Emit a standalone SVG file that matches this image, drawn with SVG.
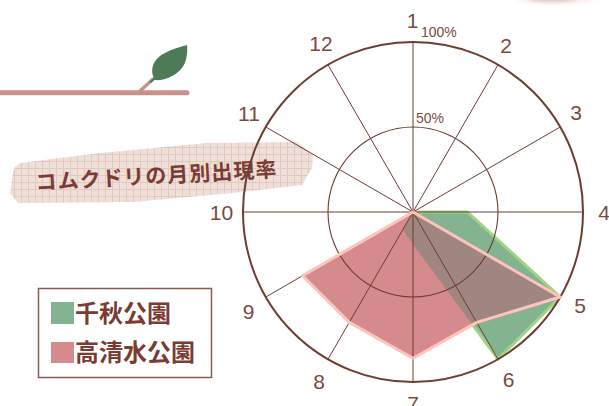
<svg xmlns="http://www.w3.org/2000/svg" width="609" height="406" viewBox="0 0 609 406">
  <style>
    .grid { stroke: #6e3c31; fill: none; }
    .num { font-family: "Liberation Sans", "DejaVu Sans", sans-serif; font-size: 21px; fill: #7a4a40; text-anchor: middle; }
    .pct { font-family: "Liberation Sans", "DejaVu Sans", sans-serif; font-size: 14px; fill: #7a4a40; }
    .jp { font-family: "Noto Sans CJK JP", "Noto Sans", sans-serif; font-weight: bold; fill: #7a3b32; }
  </style>
  <defs>
    <pattern id="paper" patternUnits="userSpaceOnUse" width="7" height="7">
      <rect width="7" height="7" fill="#eedfd8"/>
      <path d="M0,0.5 H7 M0.5,0 V7" stroke="#e2c8be" stroke-width="1"/>
    </pattern>
    <clipPath id="greenClip">
      <polygon points="413,212 467.4,212 560.2,297 498,359.2 413,244.3 402.8,229.7"/>
    </clipPath>
    <filter id="blur" x="-50%" y="-200%" width="200%" height="500%">
      <feGaussianBlur stdDeviation="2"/>
    </filter>
  </defs>

  <rect width="609" height="406" fill="#ffffff"/>

  <!-- faint cut-off shape at top right -->
  <g id="corner" filter="url(#blur)">
    <ellipse cx="555" cy="-4" rx="42" ry="8" fill="#f6e2dd" opacity="0.6"/>
    <ellipse cx="553" cy="-2" rx="24" ry="3" fill="#8a6a64" opacity="0.45"/>
  </g>

  <!-- branch and leaf -->
  <g id="leaf">
    <line x1="0" y1="92.8" x2="187" y2="92.8" stroke="#c8918a" stroke-width="5" stroke-linecap="round"/>
    <line x1="139" y1="92" x2="153" y2="79" stroke="#c8918a" stroke-width="3.5" stroke-linecap="round"/>
    <line x1="150" y1="82.5" x2="157" y2="76" stroke="#4e7a57" stroke-width="2"/>
    <path d="M155,80 C150,72 151,60 165,53 C172,49 180,47 187,45 C188,55 186,66 178,72 C172,77 163,81 155,80 Z" fill="#4e7a57"/>
  </g>

  <!-- title banner -->
  <g id="title">
    <polygon points="15,167 20,163 100,153 207,143 297,142 313,155 312,168 302,185 233,193 133,202 18,203 10,193 13,172" fill="url(#paper)"/>
    <text class="jp" x="36" y="190" font-size="21" letter-spacing="1" transform="rotate(-3.2 36 190)">コムクドリの月別出現率</text>
  </g>

  <!-- radar chart -->
  <g id="chart">
    <g id="series-senshu">
      <polygon points="413,212 467.4,212 560.2,297 498,359.2 413,244.3 402.8,229.7" fill="#84b391" stroke="#9fd483" stroke-width="3" stroke-linejoin="round"/>
    </g>
    <g id="series-takashimizu-fill">
      <polygon points="413,212 560.2,297 476.75,322.4 413,358.2 349.25,322.4 302.6,275.75" fill="#d58a8d"/>
      <polygon points="413,212 560.2,297 476.75,322.4 413,358.2 349.25,322.4 302.6,275.75" fill="#a08680" clip-path="url(#greenClip)"/>
    </g>
    <g id="grid">
      <circle class="grid" cx="413" cy="212" r="170" stroke-width="2"/>
      <circle class="grid" cx="413" cy="212" r="85" stroke-width="1.1"/>
      <g class="grid" stroke-width="1">
        <line x1="413" y1="42" x2="413" y2="382"/>
        <line x1="498" y1="64.8" x2="328" y2="359.2"/>
        <line x1="560.2" y1="127" x2="265.8" y2="297"/>
        <line x1="583" y1="212" x2="243" y2="212"/>
        <line x1="560.2" y1="297" x2="265.8" y2="127"/>
        <line x1="498" y1="359.2" x2="328" y2="64.8"/>
      </g>
    </g>
    <g id="series-takashimizu-line">
      <polygon points="413,212 560.2,297 476.75,322.4 413,358.2 349.25,322.4 302.6,275.75" fill="none" stroke="#ffc3bc" stroke-width="3" stroke-linejoin="round"/>
    </g>
    <g id="labels">
      <text class="num" x="412.5" y="28">1</text>
      <text class="num" x="506" y="52.5">2</text>
      <text class="num" x="576" y="120">3</text>
      <text class="num" x="604" y="220">4</text>
      <text class="num" x="580" y="313">5</text>
      <text class="num" x="508.5" y="387">6</text>
      <text class="num" x="413" y="411">7</text>
      <text class="num" x="319" y="389">8</text>
      <text class="num" x="248.5" y="318.5">9</text>
      <text class="num" x="221.5" y="220">10</text>
      <text class="num" x="249" y="121">11</text>
      <text class="num" x="321" y="51">12</text>
      <text class="pct" x="421" y="37">100%</text>
      <text class="pct" x="416" y="123">50%</text>
    </g>
  </g>

  <!-- legend -->
  <g id="legend">
    <rect x="38.5" y="288.5" width="173" height="89" fill="#ffffff" stroke="#8b5a50" stroke-width="1.5"/>
    <rect x="51" y="302" width="23" height="22" fill="#84b391"/>
    <rect x="51" y="342" width="23" height="21" fill="#d58a8d"/>
    <text class="jp" x="75" y="322" font-size="24">千秋公園</text>
    <text class="jp" x="75" y="361" font-size="24">高清水公園</text>
  </g>
</svg>
